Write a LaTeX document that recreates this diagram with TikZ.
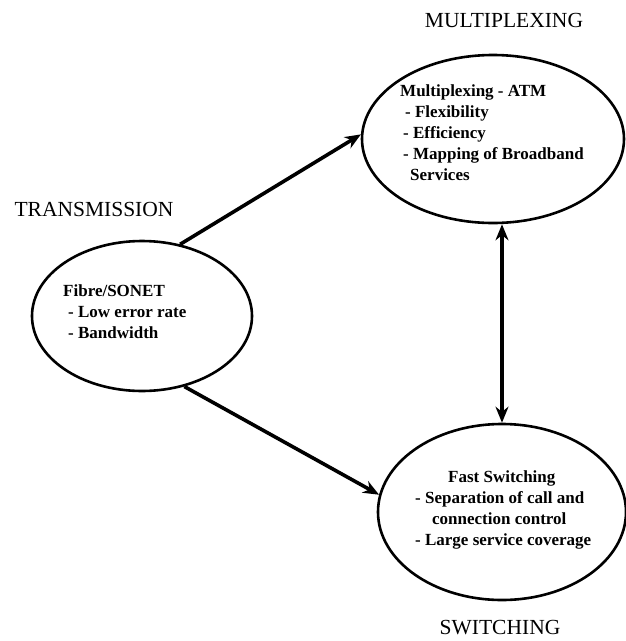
\documentclass[tikz,border=0pt]{standalone}
\usepackage{fontspec}
\setmainfont{Liberation Serif}
\usetikzlibrary{shapes.geometric,arrows.meta}

\begin{document}
\begin{tikzpicture}[x=1pt,y=-1pt,
  blob/.style={draw,ellipse,line width=2.6pt,inner sep=0pt},
  title/.style={font=\fontsize{21.5}{24}\selectfont},
  body/.style={font=\bfseries\fontsize{17}{21}\selectfont,align=left,inner sep=0pt,anchor=north west},
  link/.style={line width=3.6pt,-{Stealth[length=16pt,width=13pt]}}]
 \useasboundingbox (0,0) rectangle (626,641);

 \node[blob,minimum width=262pt,minimum height=168pt] (mux) at (493,139) {}; %多重化
 \node[blob,minimum width=220pt,minimum height=150pt] (trans) at (142,316) {}; %伝送
 \node[blob,minimum width=248pt,minimum height=176pt] (sw) at (502,512) {}; %交換

 \node[title] (muxlbl) at (504,20) {MULTIPLEXING};
 \node[title] (translbl) at (94,209) {TRANSMISSION};
 \node[title] (swlbl) at (500,628) {SWITCHING};

 \node[body] (muxtxt) at (400,84) {Multiplexing - ATM\\
   \hspace*{5pt}- Flexibility\\
   \hspace*{3pt}- Efficiency\\
   \hspace*{3pt}- Mapping of Broadband\\
   \hspace*{10pt}Services};
 \node[body] (transtxt) at (63,284) {Fibre/SONET\\
   \hspace*{5pt}- Low error rate\\
   \hspace*{5pt}- Bandwidth};
 \node[body] (swtxt) at (415,470) {\hspace*{33pt}Fast Switching\\
   - Separation of call and\\
   \hspace*{17pt}connection control\\
   - Large service coverage};

 \draw[link] (trans.62) -- (mux.178); %伝送→多重化
 \draw[link] (trans.-59) -- (sw.172); %伝送→交換
 \draw[link,{Stealth[length=16pt,width=13pt]}-{Stealth[length=16pt,width=13pt]}]
   (mux.south -| sw.north) -- (sw.north); %多重化↔交換
\end{tikzpicture}
\end{document}
